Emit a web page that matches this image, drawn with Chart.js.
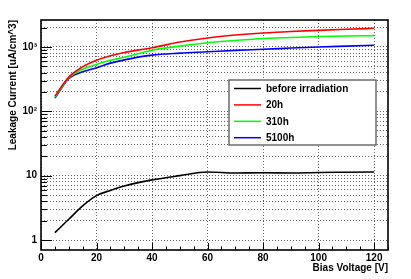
<!DOCTYPE html>
<html>
<head>
<meta charset="utf-8">
<script src="https://cdn.jsdelivr.net/npm/chart.js@4/dist/chart.umd.min.js"></script>
<style>
    html, body { margin: 0; padding: 0; background: #fff; }
    #wrap { width: 411px; height: 279px; }
</style>
</head>
<body>
<div id="wrap"><canvas id="chart"></canvas></div>
<script>
const voltage = [5, 10, 15, 20, 25, 30, 40, 50, 60, 70, 80, 90, 100, 110, 120];
const beforeIrr = [1.3, 2.1, 3.4, 4.9, 5.9, 6.9, 8.6, 10.0, 11.4, 11.0, 11.1, 11.0, 11.2, 11.3, 11.4];
const after20h = [172, 340, 490, 620, 730, 820, 970, 1190, 1380, 1530, 1650, 1740, 1810, 1880, 1950];
const after310h = [165, 330, 450, 535, 620, 690, 890, 1030, 1160, 1260, 1350, 1400, 1450, 1480, 1500];
const after5100h = [160, 320, 410, 475, 560, 630, 745, 800, 840, 885, 920, 960, 1000, 1030, 1060];
const seriesLabels = ["before irradiation", "20h", "310h", "5100h"];
const seriesColors = ["#000000", "#ff0000", "#00ff00", "#0000ff"];
const xTicks = [0, 20, 40, 60, 80, 100, 120];
const yTicks = [1, 2, 3, 4, 5, 6, 7, 8, 9, 10, 20, 30, 40, 50, 60, 70, 80, 90,
                100, 200, 300, 400, 500, 600, 700, 800, 900, 1000, 2000];
const yLabels = {1: "1", 10: "10", 100: "10\u00b2", 1000: "10\u00b3"};

const FONT = "'Liberation Sans', Arial, sans-serif";

function toPoints(values) {
    return voltage.map((v, i) => ({x: v, y: values[i]}));
}

// frame, inward tick marks, legend box and axis titles (ROOT style)
const rootStyle = {
    id: 'rootStyle',
    afterDraw(chart) {
        const ctx = chart.ctx;
        const area = chart.chartArea;
        const xs = chart.scales.x;
        const ys = chart.scales.y;
        ctx.save();
        ctx.strokeStyle = "#000";
        ctx.lineWidth = 1;
        ctx.beginPath();
        for (let v = 0; v <= 125; v += 5) {
            let px = Math.round(xs.getPixelForValue(v)) + 0.5;
            let len = (v % 20 === 0) ? 7 : 3.5;
            ctx.moveTo(px, area.bottom);
            ctx.lineTo(px, area.bottom - len);
        }
        for (const t of yTicks) {
            let py = Math.round(ys.getPixelForValue(t)) + 0.5;
            let len = yLabels[t] ? 11 : 6;
            ctx.moveTo(area.left, py);
            ctx.lineTo(area.left + len, py);
        }
        ctx.stroke();

        ctx.lineWidth = 1.6;
        ctx.strokeRect(area.left, area.top, area.right - area.left, area.bottom - area.top);

        // legend
        let lx = 229, ly = 80, lw = 147, lh = 65;
        ctx.fillStyle = "#fff";
        ctx.fillRect(lx, ly, lw, lh);
        ctx.strokeStyle = "#555";
        ctx.lineWidth = 1.3;
        ctx.strokeRect(lx, ly, lw, lh);
        ctx.font = "bold 10px " + FONT;
        ctx.textBaseline = "middle";
        ctx.textAlign = "left";
        chart.data.datasets.forEach(function(ds, i) {
            let y = ly + 8.5 + i * 16.4;
            ctx.strokeStyle = ds.borderColor;
            ctx.lineWidth = 1.5;
            ctx.beginPath();
            ctx.moveTo(234, y);
            ctx.lineTo(261, y);
            ctx.stroke();
            ctx.fillStyle = "#000";
            ctx.fillText(ds.label, 266, y + 0.5);
        });

        // axis titles
        ctx.fillStyle = "#000";
        ctx.textAlign = "right";
        ctx.fillText("Bias Voltage [V]", area.right, 268);
        ctx.translate(13, area.top);
        ctx.rotate(-Math.PI / 2);
        ctx.textAlign = "right";
        ctx.fillText("Leakage Current [uA/cm^3]", 0, 0);
        ctx.restore();
    }
};

function createChart(id) {
    const ctx = document.getElementById(id).getContext('2d');
    const datasets = [beforeIrr, after20h, after310h, after5100h].map(function(values, i) {
        return {
            label: seriesLabels[i],
            data: toPoints(values),
            borderColor: seriesColors[i],
            backgroundColor: seriesColors[i],
            borderWidth: 1.6,
            pointRadius: 0,
            cubicInterpolationMode: 'monotone'
        };
    });
    return new Chart(ctx, {
        type: 'line',
        data: {datasets: datasets},
        plugins: [rootStyle],
        options: {
            responsive: false,
            animation: false,
            devicePixelRatio: 1,
            layout: {padding: {top: 20, right: 23, left: 0, bottom: 0}},
            plugins: {legend: {display: false}, tooltip: {enabled: false}},
            scales: {
                x: {
                    type: 'linear',
                    min: 0,
                    max: 125,
                    afterBuildTicks: function(scale) { scale.ticks = xTicks.map(v => ({value: v})); },
                    afterFit: function(scale) { scale.height = 29; },
                    grid: {drawTicks: false, color: "rgba(0,0,0,0.6)", lineWidth: 1},
                    border: {display: false, dash: [1, 2]},
                    ticks: {
                        padding: 2,
                        color: "#000",
                        maxRotation: 0,
                        autoSkip: false,
                        font: {family: FONT, size: 10, weight: 'bold'}
                    }
                },
                y: {
                    type: 'logarithmic',
                    min: 0.725,
                    max: 2620,
                    afterBuildTicks: function(scale) { scale.ticks = yTicks.map(v => ({value: v})); },
                    afterFit: function(scale) { scale.width = 41; },
                    grid: {drawTicks: false, color: "rgba(0,0,0,0.6)", lineWidth: 1},
                    border: {display: false, dash: [1, 2]},
                    ticks: {
                        padding: 4,
                        color: "#000",
                        autoSkip: false,
                        font: {family: FONT, size: 10, weight: 'bold'},
                        callback: function(value) { return yLabels[value] || ""; }
                    }
                }
            }
        }
    });
}

const canvas = document.getElementById('chart');
canvas.width = 411;
canvas.height = 279;
createChart('chart');
</script>
</body>
</html>
